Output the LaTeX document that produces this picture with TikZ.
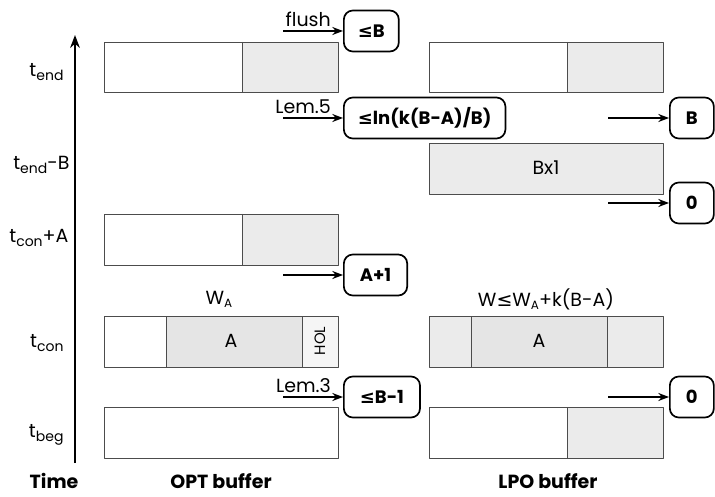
\documentclass[tikz,border=0pt]{standalone}
\usepackage{fontspec}
\setmainfont{Poppins}
\newfontfamily\symfont{DejaVu Sans}
\usetikzlibrary{positioning,arrows.meta}
\newcommand{\lessq}{{\symfont ≤}}
\newcommand{\tlab}[1]{t\raisebox{-0.35ex}{\fontsize{14}{14}\selectfont #1}}
\newcommand{\wsub}{W\raisebox{-0.3ex}{\fontsize{12}{12}\selectfont A}}

\begin{document}
\begin{tikzpicture}[x=1pt,y=-1pt,>=Stealth, font=\fontsize{19}{22}\selectfont, line join=round,
	buf/.style={draw=black!70, line width=0.9pt},
	hatch/.style={fill=black!8},
	dots/.style={fill=black!10},
	val/.style={draw, line width=1.7pt, rounded corners=9pt, minimum height=41pt, inner xsep=14pt, font=\fontsize{18}{21}\selectfont\bfseries},
	feed/.style={->, line width=1.7pt},
	tick/.style={anchor=east},
	head/.style={anchor=base, inner sep=0pt, font=\fontsize{19}{22}\selectfont\bfseries}]
	\useasboundingbox (0,0) rectangle (715,497);
	\def \optl{104} \def \optr{338} \def \lpol{429} \def \lpor{663}
	% time axis
	\coordinate (t0) at (75,463);
	\coordinate (t1) at (75,35);
	\draw[->, line width=2.2pt] (t0) -- (t1);
	\node[tick] (lend) at (67,72) {\tlab{end}};
	\node[tick] (lendB) at (73,165) {\tlab{end}-B};
	\node[tick] (lconA) at (72,238) {\tlab{con}+A};
	\node[tick] (lcon) at (67,343) {\tlab{con}};
	\node[tick] (lbeg) at (67,435) {\tlab{beg}};
	\node[head] (time) at (54,488) {Time};
	\node[head] (optname) at (221,488) {OPT buffer};
	\node[head] (lponame) at (548,488) {LPO buffer};
	% OPT buffer
	\fill[hatch] (242,42) rectangle (\optr,92);
	\draw[buf] (\optl,42) rectangle (\optr,92) (242,42) -- (242,92);
	\fill[hatch] (242,214) rectangle (\optr,265);
	\draw[buf] (\optl,214) rectangle (\optr,265) (242,214) -- (242,265);
	\fill[dots] (166,316) rectangle (302,367);
	\fill[black!4] (302,316) rectangle (\optr,367);
	\draw[buf] (\optl,316) rectangle (\optr,367) (166,316) -- (166,367) (302,316) -- (302,367);
	\node (optA) at (231,341) {A};
	\node[rotate=90, font=\fontsize{15}{17}\selectfont] (hol) at (320,341) {HOL};
	\node (wa) at (219,299) {\wsub};
	\draw[buf] (\optl,407) rectangle (\optr,458);
	% LPO buffer
	\fill[hatch] (567,42) rectangle (\lpor,92);
	\draw[buf] (\lpol,42) rectangle (\lpor,92) (567,42) -- (567,92);
	\fill[hatch] (\lpol,143) rectangle (\lpor,194);
	\draw[buf] (\lpol,143) rectangle (\lpor,194);
	\node (bx) at (546,168) {Bx1};
	\fill[hatch] (\lpol,316) rectangle (\lpor,367);
	\fill[dots] (471,316) rectangle (607,367);
	\draw[buf] (\lpol,316) rectangle (\lpor,367) (471,316) -- (471,367) (607,316) -- (607,367);
	\node (lpoA) at (539,341) {A};
	\node (w) at (546,299) {W\lessq\wsub+k(B-A)};
	\fill[hatch] (567,407) rectangle (\lpor,458);
	\draw[buf] (\lpol,407) rectangle (\lpor,458) (567,407) -- (567,458);
	% values
	\node[val, anchor=west] (vflush) at (343,31) {\lessq B};
	\node[val, anchor=west] (vlem5) at (343,118) {\lessq ln(k(B-A)/B)};
	\node[val, anchor=west, inner xsep=16pt] (vconA) at (343,275) {A+1};
	\node[val, anchor=west, inner xsep=16pt] (vlem3) at (343,397) {\lessq B-1};
	\node[val, anchor=west, minimum width=44pt, inner xsep=4pt] (vB) at (669,118) {B};
	\node[val, anchor=west, minimum width=44pt, inner xsep=4pt] (v0a) at (669,203) {0};
	\node[val, anchor=west, minimum width=44pt, inner xsep=4pt] (v0b) at (669,397) {0};
	\coordinate (aflush) at (283,31);
	\coordinate (alem5) at (283,118);
	\coordinate (aconA) at (283,275);
	\coordinate (alem3) at (283,397);
	\coordinate (aB) at (608,118);
	\coordinate (a0a) at (608,203);
	\coordinate (a0b) at (608,397);
	\draw[feed] (aflush) -- (vflush);
	\draw[feed] (alem5) -- (vlem5);
	\draw[feed] (aconA) -- (vconA);
	\draw[feed] (alem3) -- (vlem3);
	\draw[feed] (aB) -- (vB);
	\draw[feed] (a0a) -- (v0a);
	\draw[feed] (a0b) -- (v0b);
	\node[anchor=south east, inner sep=1pt] (lflush) at (332,28) {flush};
	\node[anchor=south east, inner sep=1pt] (llem5) at (332,115) {Lem.5};
	\node[anchor=south east, inner sep=1pt] (llem3) at (332,394) {Lem.3};
\end{tikzpicture}
\end{document}
